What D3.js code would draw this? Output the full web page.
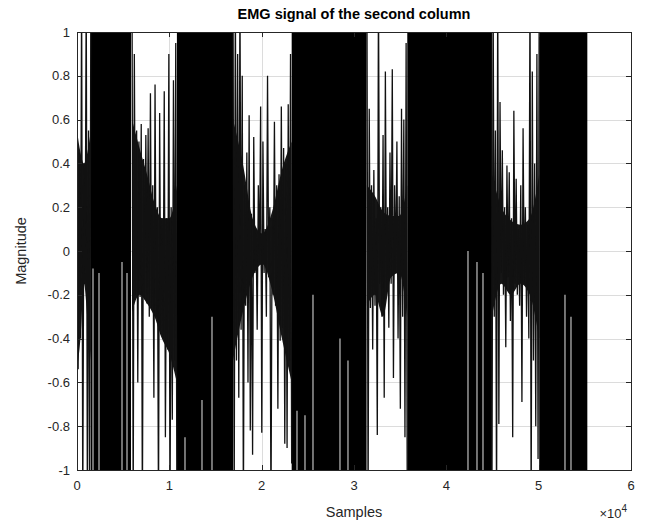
<!DOCTYPE html>
<html lang="en">
<head>
<meta charset="UTF-8">
<script src="https://d3js.org/d3.v7.min.js"></script>
<title>EMG signal</title>
<style>
  body { margin: 0; background: #fff; }
  text { font-family: "Liberation Sans", Arial, sans-serif; }
</style>
</head>
<body>
<div id="chart"></div>
<script>
// saturated bursts: sample ranges where the trace swings past +-1
var burstStart = [1500, 10820, 23250, 35770, 50060];
var burstEnd   = [5850, 16900, 31360, 44940, 55270];

// thin openings inside the bursts: sample, top and bottom of the opening
var gapSample = [1733, 2383, 4874, 5415, 11696, 13537, 14620, 23826, 24692, 25558,
                 28482, 29348, 42345, 43320, 43970, 52850, 53500];
var gapTop    = [-0.08, -0.1, -0.05, -0.1, -0.85, -0.68, -0.3, -0.73, -0.75, -0.2,
                 -0.4, -0.5, 0, -0.05, -0.1, -0.2, -0.3];
var gapBottom = [-1, -1, -1, -1, -1, -1, -1, -1, -1, -1,
                 -1, -1, -1, -1, -1, -1, -1];

// quieter stretches between bursts: first / last sample and the peaks
var quietStart = [0, 5960, 16900, 31400, 44940];
var quietEnd   = [1500, 10820, 23250, 35770, 50060];

var quiet0 = [0.55, -0.54, 0.45, -0.4, 1.2, -1.2, 0.4, -0.15, 1.2, -1.2, 0.55, -1.2, 1.2];
var quiet1 = [1.2, -1.2, 0.9, -0.2, 0.55, -0.6, 0.5, -0.21, 0.58, -1.2,
              0.42, -0.22, 0.53, -0.24, 0.56, -0.3, 0.72, -0.26, 0.3, -0.67,
              0.76, -0.3, 0.2, -1.2, 0.63, -0.38, 0.15, -0.4, 0.73, -0.85,
              0.15, -0.45, 0.9, -1.2, 0.2, -0.77, 0.78, -0.5, 0.95, -1.2];
var quiet2 = [1.2, -1.2, 1.2, -0.5, 0.9, -0.67, 1.2, -0.36, 0.8, -1.2,
              0.3, -0.25, 0.45, -0.6, 0.62, -0.82, 0.17, -0.93, 0.52, -0.1,
              0.1, -0.36, 0.3, -0.06, 0.66, -0.83, 0.5, -0.1, 0.1, -0.3,
              0.8, -0.12, 0.2, -1.2, 0.15, -0.2, 0.59, -0.25, 0.3, -0.72,
              0.35, -0.41, 0.66, -0.35, 0.47, -0.88, 0.4, -0.9, 0.67, -0.5,
              0.9, -0.97];
var quiet3 = [1.2, -1.2, 0.65, -0.26, 0.3, -0.45, 0.37, -0.25, 0.15, -0.84,
              1.2, -0.15, 0.2, -0.3, 0.53, -0.67, 0.82, -0.2, 0.2, -0.35,
              0.45, -0.15, 0.83, -0.58, 0.3, -0.1, 0.5, -0.4, 0.25, -0.72,
              0.65, -0.3, 0.6, -0.85, 0.95, -1.2];
var quiet4 = [-1.2, 1.2, -0.3, 0.55, -1.2, 1.2, -0.79, 0.68, -0.1, 0.46,
              -0.2, 0.2, -0.44, 0.39, -0.12, 0.36, -0.32, 0.15, -0.85, 0.64,
              -0.15, 0.33, -0.2, 0.1, -0.25, 0.3, -0.69, 0.56, -0.15, 0.2,
              -0.3, 0.12, -0.4, 1.2, -1.2, 0.82, -0.5, 0.4, -0.8, 0.9,
              -0.95, 1.2];
var quietValues = [quiet0, quiet1, quiet2, quiet3, quiet4];

// dense core of each quiet stretch (top / bottom edge, evenly spread over the stretch)
var coreTop = [[0.55, 0.45, 0.4, 0.45, 0.55],
               [0.6, 0.47, 0.35, 0.22, 0.15, 0.15, 0.3],
               [0.6, 0.4, 0.15, 0.08, 0.18, 0.37, 0.5],
               [0.3, 0.25, 0.18, 0.16, 0.16, 0.3],
               [0.35, 0.2, 0.14, 0.12, 0.15, 0.35]];
var coreBottom = [[-0.54, -0.4, -0.15, -0.3, -0.5],
                  [-0.28, -0.2, -0.24, -0.3, -0.4, -0.47, -0.6],
                  [-0.5, -0.28, -0.12, -0.06, -0.18, -0.4, -0.6],
                  [-0.25, -0.2, -0.3, -0.12, -0.1, -0.3],
                  [-0.3, -0.15, -0.2, -0.15, -0.2, -0.4]];

var xTicks = [0, 1, 2, 3, 4, 5, 6];          // x 10^4 samples
var yTicks = [-1, -0.8, -0.6, -0.4, -0.2, 0, 0.2, 0.4, 0.6, 0.8, 1];

var W = 649, H = 526;
var margin = { left: 77, top: 32, right: 18, bottom: 56 };
var pw = W - margin.left - margin.right;
var ph = H - margin.top - margin.bottom;

var svg = d3.select("#chart").append("svg")
    .attr("width", W).attr("height", H);

var x = d3.scaleLinear().domain([0, 60000]).range([0, pw]);
var y = d3.scaleLinear().domain([-1, 1]).range([ph, 0]);

var g = svg.append("g")
    .attr("transform", "translate(" + margin.left + "," + margin.top + ")");

// grid
g.append("g").selectAll("line").data(xTicks.slice(1, -1)).enter().append("line")
    .attr("x1", function (d) { return Math.round(x(d * 10000)) + 0.5; })
    .attr("x2", function (d) { return Math.round(x(d * 10000)) + 0.5; })
    .attr("y1", 0).attr("y2", ph)
    .attr("stroke", "#dcdcdc").attr("stroke-width", 1);
g.append("g").selectAll("line").data(yTicks.slice(1, -1)).enter().append("line")
    .attr("y1", function (d) { return Math.round(y(d)) + 0.5; })
    .attr("y2", function (d) { return Math.round(y(d)) + 0.5; })
    .attr("x1", 0).attr("x2", pw)
    .attr("stroke", "#dcdcdc").attr("stroke-width", 1);

svg.append("clipPath").attr("id", "clip")
  .append("rect").attr("width", pw).attr("height", ph);

var plot = g.append("g").attr("clip-path", "url(#clip)");

// bursts
plot.selectAll("rect.burst").data(d3.range(burstStart.length)).enter().append("rect")
    .attr("class", "burst")
    .attr("x", function (i) { return x(burstStart[i]); })
    .attr("width", function (i) { return x(burstEnd[i]) - x(burstStart[i]); })
    .attr("y", y(1))
    .attr("height", y(-1) - y(1))
    .attr("fill", "#000");

plot.selectAll("line.gap").data(d3.range(gapSample.length)).enter().append("line")
    .attr("class", "gap")
    .attr("x1", function (i) { return x(gapSample[i]); })
    .attr("x2", function (i) { return x(gapSample[i]); })
    .attr("y1", function (i) { return y(gapTop[i]); })
    .attr("y2", function (i) { return y(gapBottom[i]); })
    .attr("stroke", "#fff").attr("stroke-width", 1.2).attr("stroke-opacity", 0.75);

// quiet stretches
var line = d3.line()
    .x(function (d) { return x(d[0]); })
    .y(function (d) { return y(d[1]); });

var band = d3.area()
    .x(function (d) { return x(d[0]); })
    .y0(function (d) { return y(d[2]); })
    .y1(function (d) { return y(d[1]); })
    .curve(d3.curveMonotoneX);

quietValues.forEach(function (vals, k) {
    var cs = (quietEnd[k] - quietStart[k]) / (coreTop[k].length - 1);
    var core = coreTop[k].map(function (t, i) {
        return [quietStart[k] + i * cs, t, coreBottom[k][i]];
    });
    plot.append("path")
        .attr("d", band(core))
        .attr("fill", "#161616");

    var step = (quietEnd[k] - quietStart[k]) / (vals.length - 1);
    var pts = vals.map(function (v, i) { return [quietStart[k] + i * step, v]; });
    plot.append("path")
        .attr("d", line(pts))
        .attr("fill", "none")
        .attr("stroke", "#111")
        .attr("stroke-width", 1.3);
});

// box + ticks
var axisCol = "#262626";
g.append("rect").attr("x", 0.5).attr("y", 0.5).attr("width", pw).attr("height", ph)
    .attr("fill", "none").attr("stroke", axisCol).attr("stroke-width", 1);

var tl = 5;
xTicks.forEach(function (t) {
    var px = Math.round(x(t * 10000)) + 0.5;
    g.append("line").attr("x1", px).attr("x2", px).attr("y1", ph).attr("y2", ph - tl)
        .attr("stroke", axisCol);
    g.append("line").attr("x1", px).attr("x2", px).attr("y1", 0).attr("y2", tl)
        .attr("stroke", axisCol);
    g.append("text").attr("x", x(t * 10000)).attr("y", ph + 20)
        .attr("text-anchor", "middle").attr("font-size", 13).attr("fill", axisCol)
        .text(t);
});
yTicks.forEach(function (t) {
    var py = Math.round(y(t)) + 0.5;
    g.append("line").attr("x1", 0).attr("x2", tl).attr("y1", py).attr("y2", py)
        .attr("stroke", axisCol);
    g.append("line").attr("x1", pw).attr("x2", pw - tl).attr("y1", py).attr("y2", py)
        .attr("stroke", axisCol);
    g.append("text").attr("x", -7).attr("y", y(t) + 4.5)
        .attr("text-anchor", "end").attr("font-size", 13).attr("fill", axisCol)
        .text(String(t));
});

// exponent
var ex = g.append("text").attr("x", pw - 4).attr("y", ph + 48)
    .attr("text-anchor", "end").attr("font-size", 13).attr("fill", axisCol);
ex.append("tspan").text("\u00d710");
ex.append("tspan").attr("dy", -6).attr("font-size", 10).text("4");

// labels
g.append("text").attr("x", pw / 2).attr("y", ph + 47)
    .attr("text-anchor", "middle").attr("font-size", 14.5).attr("fill", axisCol)
    .text("Samples");
g.append("text")
    .attr("transform", "translate(" + (-51) + "," + (ph / 2) + ") rotate(-90)")
    .attr("text-anchor", "middle").attr("font-size", 14.5).attr("fill", axisCol)
    .text("Magnitude");
g.append("text").attr("x", pw / 2).attr("y", -13)
    .attr("text-anchor", "middle").attr("font-size", 14.5).attr("font-weight", "bold")
    .attr("fill", "#000")
    .text("EMG signal of the second column");
</script>
</body>
</html>
